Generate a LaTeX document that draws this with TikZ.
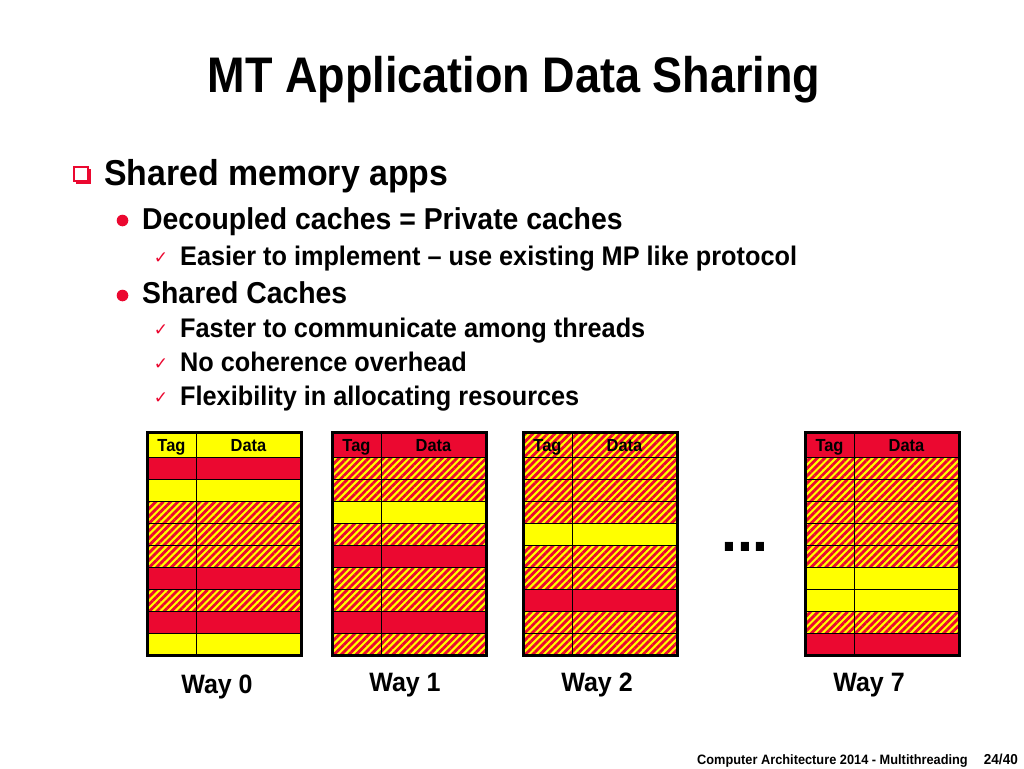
\documentclass[tikz,border=0pt]{standalone}
\usepackage{fontspec}
\setmainfont[FakeStretch=0.94]{Liberation Sans}
\newfontfamily\titlefont[FakeStretch=0.9]{Liberation Sans}
\newfontfamily\symfont{DejaVu Sans}
\usetikzlibrary{patterns.meta}
\definecolor{wayred}{RGB}{235,8,48}
\definecolor{wayyellow}{RGB}{255,255,0}

\begin{document}
\begin{tikzpicture}[x=1pt, y=-1pt,
  cell/.style={draw=black, line width=0.9pt},
  redrow/.style={cell, fill=wayred},
  yelrow/.style={cell, fill=wayyellow},
  hatchrow/.style={cell, preaction={fill=wayyellow},
    pattern={Lines[angle=45, distance=5.2pt, line width=2.8pt]}, pattern color=wayred},
  border/.style={draw=black, line width=3pt},
  headtext/.style={font=\fontsize{17.5}{18}\selectfont\bfseries, anchor=base},
  waylabel/.style={font=\fontsize{26.6}{27}\selectfont\bfseries, anchor=base},
  lvlone/.style={font=\fontsize{36}{36}\selectfont\bfseries, anchor=base west, inner sep=0pt},
  lvltwo/.style={font=\fontsize{30.2}{30}\selectfont\bfseries, anchor=base west, inner sep=0pt},
  lvlthree/.style={font=\fontsize{26.9}{27}\selectfont\bfseries, anchor=base west, inner sep=0pt},
  check/.style={font=\symfont\fontsize{17}{17}\selectfont, text=wayred, anchor=base, inner sep=0pt}]
\useasboundingbox[fill=white] (0,0) rectangle (1024,768);

% title and bullets
\node[font=\titlefont\fontsize{50}{50}\selectfont\bfseries, anchor=base] (title) at (514,92) {MT Application Data Sharing};

\draw[wayred, line width=1.5pt] (74,167) rectangle (88,181);
\draw[wayred, line width=2.5pt] (90,169) -- (90,183) -- (76,183);
\node[lvlone] (apps) at (104,185) {Shared memory apps};

\fill[wayred] (122.5,220.5) circle (5.8);
\node[lvltwo] (private) at (142,229) {Decoupled caches = Private caches};
\node[check] (chk1) at (161,263) {✓};
\node[lvlthree] (easier) at (180,265) {Easier to implement -- use existing MP like protocol};

\fill[wayred] (122.5,295.5) circle (5.8);
\node[lvltwo] (sharedc) at (142,303) {Shared Caches};
\node[check] (chk2) at (161,335) {✓};
\node[lvlthree] (faster) at (180,337) {Faster to communicate among threads};
\node[check] (chk3) at (161,369) {✓};
\node[lvlthree] (nocoh) at (180,371) {No coherence overhead};
\node[check] (chk4) at (161,403) {✓};
\node[lvlthree] (flex) at (180,405) {Flexibility in allocating resources};

% way 0
\begin{scope}[shift={(147,432)}]
\draw[yelrow] (0,0) rectangle (49,25) (49,0) rectangle (154,25);
\foreach \s [count=\i from 0] in {redrow,yelrow,hatchrow,hatchrow,hatchrow,redrow,hatchrow,redrow,yelrow}
  \draw[\s] (0,{25+22*\i}) rectangle (49,{47+22*\i}) (49,{25+22*\i}) rectangle (154,{47+22*\i});
\node[headtext] (tag0) at (24.5,19.5) {Tag};
\node[headtext] (data0) at (101.5,19.5) {Data};
\draw[border] (0,0) rectangle (154,223);
\node[waylabel] (way0) at (70,261) {Way 0};
\end{scope}

% way 1
\begin{scope}[shift={(332,432)}]
\draw[redrow] (0,0) rectangle (49,25) (49,0) rectangle (154,25);
\foreach \s [count=\i from 0] in {hatchrow,hatchrow,yelrow,hatchrow,redrow,hatchrow,hatchrow,redrow,hatchrow}
  \draw[\s] (0,{25+22*\i}) rectangle (49,{47+22*\i}) (49,{25+22*\i}) rectangle (154,{47+22*\i});
\node[headtext] (tag1) at (24.5,19.5) {Tag};
\node[headtext] (data1) at (101.5,19.5) {Data};
\draw[border] (0,0) rectangle (154,223);
\node[waylabel] (way1) at (73,259) {Way 1};
\end{scope}

% way 2
\begin{scope}[shift={(523,432)}]
\draw[hatchrow] (0,0) rectangle (49,25) (49,0) rectangle (154,25);
\foreach \s [count=\i from 0] in {hatchrow,hatchrow,hatchrow,yelrow,hatchrow,hatchrow,redrow,hatchrow,hatchrow}
  \draw[\s] (0,{25+22*\i}) rectangle (49,{47+22*\i}) (49,{25+22*\i}) rectangle (154,{47+22*\i});
\node[headtext] (tag2) at (24.5,19.5) {Tag};
\node[headtext] (data2) at (101.5,19.5) {Data};
\draw[border] (0,0) rectangle (154,223);
\node[waylabel] (way2) at (74,259) {Way 2};
\end{scope}

\node[font=\fontsize{61}{61}\selectfont\bfseries, anchor=base] (dots) at (745,551) {...};

% way 7
\begin{scope}[shift={(805,432)}]
\draw[redrow] (0,0) rectangle (49,25) (49,0) rectangle (154,25);
\foreach \s [count=\i from 0] in {hatchrow,hatchrow,hatchrow,hatchrow,hatchrow,yelrow,yelrow,hatchrow,redrow}
  \draw[\s] (0,{25+22*\i}) rectangle (49,{47+22*\i}) (49,{25+22*\i}) rectangle (154,{47+22*\i});
\node[headtext] (tag7) at (24.5,19.5) {Tag};
\node[headtext] (data7) at (101.5,19.5) {Data};
\draw[border] (0,0) rectangle (154,223);
\node[waylabel] (way7) at (64,259) {Way 7};
\end{scope}

% footer
\node[font=\fontsize{13.6}{14}\selectfont\bfseries, anchor=base east, inner sep=0pt] (course) at (968,764) {Computer Architecture 2014 - Multithreading};
\node[font=\fontsize{14.4}{15}\selectfont\bfseries, anchor=base east, inner sep=0pt] (page) at (1018,764) {24/40};
\end{tikzpicture}
\end{document}
